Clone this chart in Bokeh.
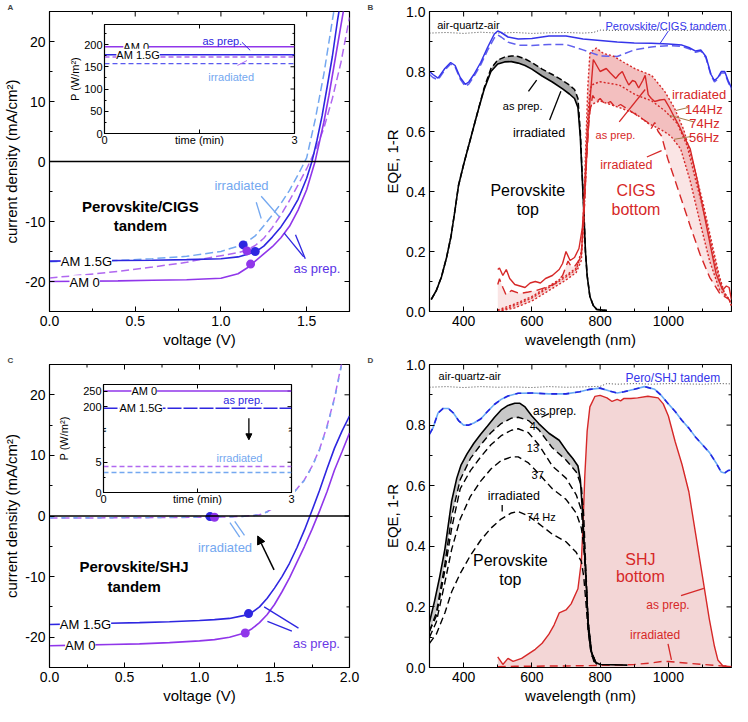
import math
from bokeh.plotting import figure
from bokeh.models import Range1d, FixedTicker, Label, Span, Arrow, NormalHead
from bokeh.layouts import column, row
from bokeh.embed import file_html
from bokeh.resources import INLINE

FONT = "Liberation Sans"
PURPLE = "#9036ea"
PURPLE_D = "#b068f0"
BLUE = "#2e26e0"
LBLUE = "#74a8f0"
TBLUE = "#3535ea"
RED = "#d62828"
HZC = "#a47a48"

# ---------------- panel A data (J-V, perovskite/CIGS) ----------------
a_v_15g = [0, 0.2, 0.4, 0.6, 0.8, 1.0, 1.1, 1.2, 1.25, 1.3, 1.35, 1.4, 1.45, 1.5, 1.53, 1.56, 1.59, 1.62, 1.65, 1.68, 1.70]
a_j_15g = [-16.6, -16.55, -16.5, -16.45, -16.35, -16.2, -15.9, -15.1, -14.1, -12.6, -10.9, -8.8, -6.3, -2.8, -0.1, 3.5, 7.6, 12.5, 17.5, 23.5, 27]
a_v_am0 = [0, 0.2, 0.4, 0.6, 0.8, 1.0, 1.1, 1.15, 1.2, 1.25, 1.3, 1.35, 1.4, 1.45, 1.5, 1.55, 1.6, 1.63, 1.66, 1.69, 1.72]
a_j_am0 = [-20.0, -19.95, -19.9, -19.8, -19.7, -19.45, -18.7, -17.8, -16.6, -15.4, -14.2, -12.7, -10.8, -8.1, -4.7, 0.1, 6.5, 11, 16, 21, 26]
a_v_am0_irr = [0, 0.2, 0.4, 0.6, 0.8, 0.9, 1.0, 1.1, 1.15, 1.2, 1.25, 1.3, 1.35, 1.4, 1.45, 1.5, 1.55, 1.6, 1.65, 1.7, 1.75]
a_j_am0_irr = [-19.4, -18.9, -18.3, -17.6, -16.8, -16.2, -15.7, -15.2, -14.8, -14.0, -12.8, -11.0, -8.9, -6.5, -3.9, -1.2, 1.8, 5.5, 10.5, 16.5, 24]
a_v_15g_irr = [0, 0.2, 0.4, 0.6, 0.8, 0.9, 1.0, 1.1, 1.15, 1.2, 1.25, 1.3, 1.35, 1.4, 1.45, 1.5, 1.55, 1.6, 1.65, 1.67]
a_j_15g_irr = [-16.7, -16.6, -16.5, -16.2, -15.8, -15.4, -15.0, -14.1, -13.4, -12.4, -10.7, -8.9, -7.0, -4.8, -2.2, 0.6, 7.0, 14.5, 23.5, 27]
a_mpp_v = [1.13, 1.152, 1.20, 1.173]
a_mpp_j = [-13.9, -14.9, -15.0, -17.1]
a_mpp_c = [BLUE, PURPLE, BLUE, PURPLE]
a_xticks = [0.0, 0.5, 1.0, 1.5]
a_xminor = [0.25, 0.75, 1.25, 1.75]
a_xlabels = ["0.0", "0.5", "1.0", "1.5"]
a_yticks = [-20, -10, 0, 10, 20]
a_yminor = [-25, -15, -5, 5, 15, 25]
a_ylabels = ["-20", "-10", "0", "10", "20"]
# inset A (power vs time)
ia_t = [0, 3]
ia_am0 = [195, 195]
ia_15g = [177, 177]
ia_am0_irr = [172, 172]
ia_15g_irr = [157, 157]
ia_yticks = [0, 50, 100, 150, 200]
ia_yminor = [25, 75, 125, 175, 225]
ia_ylabels = ["0", "50", "100", "150", "200"]
i_xticks = [0, 1.5, 3]
i_xlabels = ["0", "", "3"]

# ---------------- panel C data (J-V, perovskite/SHJ) ----------------
c_v = [0, 0.2, 0.4, 0.6, 0.8, 1.0, 1.1, 1.2, 1.3, 1.35, 1.4, 1.45, 1.5, 1.55, 1.6, 1.65, 1.7, 1.75, 1.8, 1.85, 1.9, 1.95, 2.0]
c_j_15g = [-17.9, -17.8, -17.7, -17.6, -17.45, -17.25, -17.1, -16.9, -16.4, -15.9, -15.0, -13.6, -11.9, -10.0, -7.8, -5.2, -2.3, 0.9, 4.2, 7.8, 11.2, 14.0, 16.5]
c_j_am0 = [-21.4, -21.3, -21.2, -21.1, -20.9, -20.6, -20.4, -20.0, -19.3, -18.6, -17.6, -16.3, -14.6, -12.5, -10.2, -7.6, -5.0, -2.2, 0.8, 4.0, 7.6, 10.6, 13.7]
c_v_irr = [0, 0.4, 0.8, 1.0, 1.2, 1.3, 1.4, 1.45, 1.5, 1.55, 1.6, 1.65, 1.7, 1.75, 1.8, 1.85, 1.9, 1.95]
c_j_am0_irr = [-0.35, -0.3, -0.25, -0.2, -0.15, -0.05, 0.2, 0.7, 1.4, 2.3, 3.3, 4.5, 6.0, 8.2, 11.0, 14.8, 19.5, 25.5]
c_j_15g_irr = [-0.3, -0.28, -0.22, -0.18, -0.13, -0.05, 0.2, 0.65, 1.3, 2.2, 3.2, 4.4, 5.9, 8.1, 10.9, 14.6, 19.3, 25.2]
c_mpp_v = [1.07, 1.10, 1.327, 1.305]
c_mpp_j = [-0.1, -0.2, -16.1, -19.3]
c_mpp_c = [BLUE, PURPLE, BLUE, PURPLE]
c_xticks = [0.0, 0.5, 1.0, 1.5, 2.0]
c_xminor = [0.25, 0.75, 1.25, 1.75]
c_xlabels = ["0.0", "0.5", "1.0", "1.5", "2.0"]
# inset C (broken axis: lower 0-10 W/m2, upper 126-271 W/m2)
ic_t = [0, 3]
ic_am0 = [250, 250]
ic_15g = [195, 195]
ic_am0_irr = [4.3, 4.3]
ic_15g_irr = [3.3, 3.3]
ic_up_ticks = [200, 250]
ic_up_labels = ["200", "250"]
ic_lo_ticks = [0, 5]
ic_lo_minor = [2.5, 7.5]
ic_lo_labels = ["0", "5"]

# ---------------- panel B data (EQE, perovskite/CIGS) ----------------
b_wl_t = [300, 310, 325, 345, 362, 375, 390, 405, 415, 430, 450, 470, 490, 500, 510, 530, 560, 600, 650, 700,
          750, 800, 850, 900, 950, 1000, 1040, 1060, 1080, 1095, 1110, 1125, 1135, 1145, 1155, 1165, 1175, 1185]
b_tandem = [0.80, 0.79, 0.778, 0.81, 0.83, 0.82, 0.78, 0.757, 0.765, 0.79, 0.83, 0.88, 0.925, 0.935, 0.93, 0.915, 0.908, 0.91, 0.918, 0.918,
            0.908, 0.903, 0.898, 0.895, 0.894, 0.892, 0.888, 0.88, 0.868, 0.872, 0.85, 0.79, 0.77, 0.78, 0.80, 0.80, 0.77, 0.745]
b_tandem_irr = [0.79, 0.78, 0.772, 0.805, 0.825, 0.815, 0.775, 0.75, 0.758, 0.783, 0.822, 0.87, 0.912, 0.922, 0.915, 0.898, 0.888, 0.887, 0.89, 0.89,
                0.872, 0.852, 0.85, 0.872, 0.882, 0.886, 0.884, 0.876, 0.864, 0.868, 0.846, 0.786, 0.765, 0.775, 0.795, 0.795, 0.765, 0.74]
b_wl_q = [300, 350, 400, 450, 500, 550, 600, 650, 700, 750, 780, 800, 850, 900, 950, 1000, 1050, 1100, 1150, 1185]
b_quartz = [0.928, 0.93, 0.927, 0.931, 0.928, 0.93, 0.927, 0.929, 0.93, 0.928, 0.93, 0.938, 0.937, 0.939, 0.937, 0.938, 0.937, 0.939, 0.937, 0.938]
b_wl_p = [305, 320, 335, 350, 363, 375, 385, 400, 420, 440, 460, 480, 500, 520, 540, 560, 580, 600, 630, 660,
          690, 710, 725, 735, 742, 747, 752, 757, 762, 770, 780, 790, 820]
b_pero = [0.04, 0.07, 0.115, 0.18, 0.25, 0.34, 0.42, 0.49, 0.575, 0.66, 0.74, 0.80, 0.825, 0.832, 0.833, 0.828, 0.82, 0.808, 0.785, 0.765,
          0.742, 0.725, 0.71, 0.68, 0.58, 0.46, 0.34, 0.2, 0.12, 0.05, 0.02, 0.007, 0.003]
b_pero_irr = [0.04, 0.07, 0.115, 0.18, 0.25, 0.34, 0.42, 0.49, 0.575, 0.66, 0.745, 0.81, 0.838, 0.848, 0.852, 0.85, 0.842, 0.83, 0.808, 0.79,
              0.77, 0.755, 0.74, 0.71, 0.6, 0.47, 0.345, 0.2, 0.12, 0.05, 0.02, 0.007, 0.003]
b_wl_c = [500, 505, 515, 525, 535, 550, 565, 580, 595, 610, 625, 640, 660, 680, 690, 700, 712, 725, 738, 748,
          755, 762, 770, 780, 790, 800, 818, 830, 846, 855, 865, 875, 884, 895, 903, 913, 925, 932, 941, 950,
          960, 975, 989, 1003, 1017, 1031, 1045, 1064, 1083, 1102, 1121, 1140, 1159, 1170, 1178, 1185]
b_cigs = [0.14, 0.145, 0.12, 0.14, 0.11, 0.09, 0.085, 0.08, 0.095, 0.1, 0.095, 0.11, 0.12, 0.14, 0.16, 0.2, 0.17, 0.18, 0.21, 0.28,
          0.4, 0.55, 0.7, 0.84, 0.82, 0.80, 0.81, 0.795, 0.777, 0.79, 0.80, 0.775, 0.755, 0.77, 0.766, 0.745, 0.77, 0.787, 0.723, 0.71,
          0.70, 0.705, 0.707, 0.68, 0.649, 0.62, 0.585, 0.542, 0.446, 0.34, 0.232, 0.125, 0.072, 0.085, 0.08, 0.04]
b_wl_ci = [500, 505, 515, 524, 540, 564, 590, 612, 640, 669, 690, 706, 715, 725, 744, 752, 760, 768, 778, 790,
           800, 815, 830, 845, 860, 880, 900, 920, 940, 950, 960, 970, 980, 998, 1017, 1036, 1064, 1093, 1121, 1150, 1178, 1185]
b_cigs_irr = [0.09, 0.109, 0.08, 0.056, 0.07, 0.06, 0.065, 0.07, 0.08, 0.093, 0.12, 0.168, 0.15, 0.15, 0.18, 0.3, 0.5, 0.65, 0.72, 0.70,
              0.71, 0.69, 0.70, 0.68, 0.69, 0.675, 0.66, 0.645, 0.63, 0.61, 0.63, 0.60, 0.585, 0.51, 0.446, 0.381, 0.285, 0.19, 0.114, 0.061, 0.04, 0.02]
b_wl_144 = [500, 550, 600, 650, 700, 730, 745, 752, 758, 764, 770, 778, 789, 810, 837, 870, 903, 951, 989, 1017,
            1045, 1074, 1102, 1131, 1150, 1165, 1178, 1185]
b_cigs_144 = [0.005, 0.025, 0.05, 0.085, 0.12, 0.145, 0.2, 0.35, 0.55, 0.75, 0.86, 0.87, 0.878, 0.86, 0.852, 0.83, 0.809, 0.787, 0.734, 0.68,
              0.606, 0.488, 0.36, 0.21, 0.115, 0.06, 0.04, 0.02]
b_wl_74 = [500, 550, 600, 650, 700, 730, 745, 752, 758, 764, 770, 775, 799, 856, 903, 951, 989, 1026, 1055, 1083, 1112, 1140, 1159, 1178, 1185]
b_cigs_74 = [0.0, 0.02, 0.045, 0.08, 0.115, 0.14, 0.19, 0.33, 0.5, 0.65, 0.73, 0.755, 0.766, 0.755, 0.723, 0.702, 0.67, 0.627, 0.552, 0.424,
             0.296, 0.147, 0.072, 0.04, 0.02]
b_wl_56 = [500, 550, 600, 650, 700, 730, 745, 752, 758, 764, 770, 775, 799, 856, 903, 941, 979, 1007, 1036, 1064, 1093, 1121, 1150, 1178, 1185]
b_cigs_56 = [0.0, 0.012, 0.035, 0.07, 0.105, 0.13, 0.17, 0.3, 0.45, 0.6, 0.67, 0.69, 0.702, 0.68, 0.66, 0.627, 0.606, 0.585, 0.542, 0.435,
             0.296, 0.168, 0.072, 0.04, 0.02]
w_xticks = [400, 600, 800, 1000]
w_xminor = [300, 500, 700, 900, 1100]
w_xlabels = ["400", "600", "800", "1000"]
e_yticks = [0.0, 0.2, 0.4, 0.6, 0.8, 1.0]
e_yminor = [0.1, 0.3, 0.5, 0.7, 0.9]
e_ylabels = ["0.0", "0.2", "0.4", "0.6", "0.8", "1.0"]

# ---------------- panel D data (EQE, perovskite/SHJ) ----------------
d_wl_t = [300, 310, 325, 340, 355, 370, 385, 400, 415, 430, 450, 470, 490, 510, 530, 560, 600, 650, 700, 740,
          770, 800, 830, 850, 870, 900, 930, 960, 980, 1000, 1020, 1040, 1060, 1080, 1100, 1120, 1140, 1155, 1165, 1175, 1185]
d_tandem = [0.77, 0.79, 0.84, 0.855, 0.855, 0.84, 0.815, 0.80, 0.80, 0.807, 0.82, 0.845, 0.868, 0.885, 0.896, 0.905, 0.906, 0.903, 0.903, 0.91,
            0.918, 0.922, 0.912, 0.906, 0.91, 0.918, 0.927, 0.918, 0.897, 0.87, 0.845, 0.815, 0.79, 0.76, 0.735, 0.71, 0.675, 0.645, 0.642, 0.65, 0.652]
d_tandem_irr = [0.77, 0.79, 0.84, 0.855, 0.855, 0.84, 0.815, 0.80, 0.80, 0.807, 0.82, 0.845, 0.868, 0.885, 0.896, 0.905, 0.906, 0.903, 0.903, 0.91,
                0.918, 0.922, 0.912, 0.906, 0.91, 0.918, 0.927, 0.918, 0.897, 0.87, 0.845, 0.815, 0.79, 0.76, 0.735, 0.71, 0.675, 0.645, 0.642, 0.65, 0.652]
d_wl_q = [300, 350, 400, 450, 500, 550, 600, 650, 700, 750, 800, 820, 850, 900, 950, 1000, 1050, 1100, 1150, 1185]
d_quartz = [0.925, 0.927, 0.924, 0.927, 0.925, 0.926, 0.924, 0.927, 0.925, 0.926, 0.928, 0.937, 0.935, 0.937, 0.935, 0.937, 0.936, 0.935, 0.937, 0.936]
d_wl_p = [300, 315, 330, 345, 355, 365, 380, 392, 410, 430, 450, 470, 490, 510, 530, 550, 565, 580, 600, 620,
          650, 680, 705, 720, 735, 742, 748, 755, 760, 765, 772, 782, 800, 880]
d_pero = [0.15, 0.22, 0.3, 0.39, 0.47, 0.55, 0.625, 0.667, 0.705, 0.74, 0.77, 0.797, 0.825, 0.85, 0.865, 0.872, 0.872, 0.86, 0.83, 0.805,
          0.773, 0.75, 0.71, 0.69, 0.665, 0.62, 0.52, 0.37, 0.26, 0.13, 0.06, 0.02, 0.01, 0.008]
d_wl_h = [300, 320, 345, 365, 390, 420, 450, 480, 510, 540, 560, 590, 620, 660, 700, 730, 745, 752, 758, 765, 775, 790]
d_pero_4 = [0.12, 0.18, 0.34, 0.5, 0.62, 0.69, 0.735, 0.775, 0.805, 0.823, 0.826, 0.815, 0.785, 0.725, 0.685, 0.645, 0.6, 0.5, 0.33, 0.15, 0.05, 0.01]
d_pero_13 = [0.12, 0.17, 0.32, 0.46, 0.59, 0.65, 0.695, 0.735, 0.765, 0.783, 0.788, 0.775, 0.735, 0.665, 0.625, 0.57, 0.52, 0.42, 0.3, 0.15, 0.05, 0.01]
d_pero_37 = [0.10, 0.15, 0.28, 0.39, 0.49, 0.565, 0.615, 0.655, 0.683, 0.695, 0.695, 0.675, 0.64, 0.59, 0.555, 0.51, 0.46, 0.4, 0.3, 0.15, 0.05, 0.01]
d_pero_74 = [0.08, 0.11, 0.18, 0.25, 0.31, 0.37, 0.42, 0.46, 0.49, 0.51, 0.515, 0.5, 0.475, 0.44, 0.415, 0.38, 0.35, 0.3, 0.22, 0.12, 0.04, 0.01]
d_wl_s = [500, 515, 530, 545, 570, 590, 610, 630, 650, 665, 680, 700, 715, 735, 745, 750, 755, 762, 770, 785,
          800, 820, 835, 850, 860, 870, 890, 910, 940, 970, 985, 1000, 1020, 1040, 1060, 1080, 1100, 1120, 1135, 1145, 1160, 1185]
d_shj = [0.035, 0.01, 0.03, 0.02, 0.03, 0.045, 0.06, 0.08, 0.11, 0.14, 0.18, 0.19, 0.21, 0.26, 0.35, 0.47, 0.63, 0.78, 0.86, 0.895,
         0.898, 0.89, 0.878, 0.885, 0.88, 0.888, 0.888, 0.89, 0.895, 0.89, 0.87, 0.83, 0.745, 0.67, 0.58, 0.44, 0.3, 0.16, 0.07, 0.025, 0.005, 0.003]
d_wl_si = [500, 550, 600, 650, 700, 750, 800, 850, 900, 950, 980, 1000, 1020, 1050, 1100, 1150, 1185]
d_shj_irr = [0.003, 0.004, 0.004, 0.005, 0.005, 0.006, 0.007, 0.008, 0.01, 0.015, 0.02, 0.02, 0.018, 0.015, 0.01, 0.006, 0.004]


def make_fig(xr, yr, w, h, ml, mr, mt, mb, letter=None, **kw):
    p = figure(width=w, height=h, x_range=Range1d(*xr), y_range=Range1d(*yr),
               output_backend="svg", toolbar_location=None,
               min_border_left=ml, min_border_right=mr, min_border_top=mt, min_border_bottom=mb,
               title=letter, **kw)
    p.grid.visible = False
    p.outline_line_color = "black"
    p.outline_line_width = 1.2
    p.border_fill_color = "white"
    p.background_fill_color = "white"
    if letter:
        p.title.text_font = FONT
        p.title.text_font_size = "8px"
        p.title.text_font_style = "bold"
        p.title.align = "left"
        p.title.offset = -(ml - 1)
        p.title.standoff = 0
    return p


def set_axis(ax, ticks, minor, labels, label, fs, afs, tin, standoff=4, lstand=2):
    ax.ticker = FixedTicker(ticks=ticks, minor_ticks=minor)
    ax.major_label_overrides = {t: l for t, l in zip(ticks, labels)}
    ax.axis_label = label if label else None
    ax.major_label_text_font = FONT
    ax.major_label_text_font_size = fs
    ax.major_label_text_color = "black"
    ax.axis_label_text_font = FONT
    ax.axis_label_text_font_size = afs
    ax.axis_label_text_font_style = "normal"
    ax.axis_label_text_color = "black"
    ax.axis_label_standoff = lstand
    ax.major_label_standoff = standoff
    ax.major_tick_in = tin
    ax.major_tick_out = 0
    ax.minor_tick_in = max(2, tin - 2)
    ax.minor_tick_out = 0
    ax.major_tick_line_color = "black"
    ax.minor_tick_line_color = "black"
    ax.axis_line_color = "black"


def tick_rays(p, xs, ys, length, angle, **kw):
    p.ray(x=xs, y=ys, length=length, length_units="screen", angle=angle,
          line_color="black", line_width=1, **kw)


def mirror_ticks(p, xr, yr, xt, xm, yt, ym, tin, top=True, right=True):
    """Inward tick marks on the top and right frame edges."""
    if top:
        tick_rays(p, xt, [yr[1]] * len(xt), tin, -math.pi / 2)
        if xm:
            tick_rays(p, xm, [yr[1]] * len(xm), max(2, tin - 2), -math.pi / 2)
    if right:
        tick_rays(p, [xr[1]] * len(yt), yt, tin, math.pi)
        if ym:
            tick_rays(p, [xr[1]] * len(ym), ym, max(2, tin - 2), math.pi)


def lab(p, x, y, text, size="13px", color="black", bold=False, bg=None, align="center", angle=0.0,
        base="middle", **kw):
    l = Label(x=x, y=y, text=text, text_font=FONT, text_font_size=size, text_color=color,
              text_align=align, text_baseline=base, angle=angle,
              text_font_style="bold" if bold else "normal", **kw)
    if bg:
        l.background_fill_color = bg
    p.add_layout(l)


def leader(p, pts, color, width=1.3, **kw):
    p.line([pts[0][0], pts[1][0]], [pts[0][1], pts[1][1]], line_color=color, line_width=width, **kw)


# ======================= Panel A =======================
A_X, A_Y = (0, 1.75), (-25, 25)
pA = make_fig(A_X, A_Y, 366, 353, 43, 17, 4, 42, letter="A")
set_axis(pA.xaxis[0], a_xticks, a_xminor, a_xlabels, "voltage (V)", "14px", "15px", 5)
set_axis(pA.yaxis[0], a_yticks, a_yminor, a_ylabels, "current density (mA/cm²)", "14px", "15px", 5)
mirror_ticks(pA, A_X, A_Y, a_xticks, a_xminor, a_yticks, a_yminor, 5)
pA.add_layout(Span(location=0, dimension="width", line_color="black", line_width=1.3))
pA.line(a_v_am0_irr, a_j_am0_irr, line_color=PURPLE_D, line_width=1.5, line_dash="8 4")
pA.line(a_v_15g_irr, a_j_15g_irr, line_color=LBLUE, line_width=1.5, line_dash="8 4")
pA.line(a_v_am0, a_j_am0, line_color=PURPLE, line_width=1.6)
pA.line(a_v_15g, a_j_15g, line_color=BLUE, line_width=1.6)
pA.scatter(a_mpp_v, a_mpp_j, size=9, fill_color=a_mpp_c, line_color=None)
lab(pA, 0.215, -16.6, "AM 1.5G", "13px", "black", bg="white")
lab(pA, 0.205, -20.2, "AM 0", "13px", "black", bg="white")
lab(pA, 0.53, -7.5, "Perovskite/CIGS", "15px", "black", bold=True)
lab(pA, 0.53, -10.6, "tandem", "15px", "black", bold=True)
lab(pA, 1.12, -4.0, "irradiated", "13px", LBLUE)
lab(pA, 1.56, -17.9, "as prep.", "13px", "#5a33e6")
leader(pA, [(1.206, -6.8), (1.235, -9.5)], LBLUE)
leader(pA, [(1.235, -5.8), (1.34, -9.2)], LBLUE)
leader(pA, [(1.368, -11.9), (1.483, -15.9)], BLUE)
leader(pA, [(1.435, -12.2), (1.492, -16.2)], BLUE)

# ======================= Panel B =======================
W_X, E_Y = (300, 1185), (0, 1.0)
pB = make_fig(W_X, E_Y, 366, 353, 63, 1, 4, 42, letter="B")
set_axis(pB.xaxis[0], w_xticks, w_xminor, w_xlabels, "wavelength (nm)", "14px", "15px", 5)
set_axis(pB.yaxis[0], e_yticks, e_yminor, e_ylabels, "EQE, 1-R", "14px", "15px", 5)
mirror_ticks(pB, W_X, E_Y, w_xticks, w_xminor, e_yticks, e_yminor, 5)
pB.patch(b_wl_144 + b_wl_ci[::-1], b_cigs_144 + b_cigs_irr[::-1], fill_color=RED, fill_alpha=0.12, line_color=None)
pB.patch(b_wl_144 + b_wl_56[::-1], b_cigs_144 + b_cigs_56[::-1], fill_color=RED, fill_alpha=0.2, line_color=None)
pB.varea(x=b_wl_p, y1=b_pero, y2=b_pero_irr, fill_color="#a8a8a8")
pB.line(b_wl_q, b_quartz, line_color="#444444", line_width=1, line_dash="1 2")
pB.line(b_wl_t, b_tandem_irr, line_color="#6060ee", line_width=1.5, line_dash="8 4")
pB.line(b_wl_t, b_tandem, line_color=TBLUE, line_width=1.5)
pB.line(b_wl_p, b_pero_irr, line_color="black", line_width=1.5, line_dash="6 3")
pB.line(b_wl_p, b_pero, line_color="black", line_width=1.6)
pB.line(b_wl_144, b_cigs_144, line_color=RED, line_width=1.4, line_dash="2 2")
pB.line(b_wl_74, b_cigs_74, line_color=RED, line_width=1.4, line_dash="2 2")
pB.line(b_wl_56, b_cigs_56, line_color=RED, line_width=1.4, line_dash="2 2")
pB.line(b_wl_ci, b_cigs_irr, line_color=RED, line_width=1.4, line_dash="9 5")
pB.line(b_wl_c, b_cigs, line_color=RED, line_width=1.4)
lab(pB, 414, 0.955, "air-quartz-air", "11px")
lab(pB, 993, 0.952, "Perovskite/CIGS tandem", "11px", TBLUE)
leader(pB, [(1000, 0.935), (976, 0.894)], TBLUE, 1)
lab(pB, 573, 0.686, "as prep.", "11px")
lab(pB, 621, 0.595, "irradiated", "12.5px")
leader(pB, [(590, 0.734), (614, 0.771)], "black")
leader(pB, [(652, 0.638), (685, 0.734)], "black")
lab(pB, 588, 0.403, "Perovskite", "16px")
lab(pB, 588, 0.339, "top", "16px")
lab(pB, 905, 0.403, "CIGS", "16px", RED)
lab(pB, 905, 0.339, "bottom", "16px", RED)
lab(pB, 845, 0.587, "as prep.", "11px", RED)
lab(pB, 877, 0.488, "irradiated", "12.5px", RED)
leader(pB, [(856, 0.632), (932, 0.74)], RED)
leader(pB, [(937, 0.515), (980, 0.536)], RED)
lab(pB, 1090, 0.723, "irradiated", "13px", RED)
lab(pB, 1104, 0.675, "144Hz", "13px", RED)
lab(pB, 1106, 0.627, "74Hz", "13px", RED)
lab(pB, 1105, 0.579, "56Hz", "13px", RED)
leader(pB, [(1058, 0.68), (1022, 0.67)], HZC, 1)
leader(pB, [(1075, 0.632), (1003, 0.654)], HZC, 1)
leader(pB, [(1070, 0.584), (1017, 0.574)], HZC, 1)

# ======================= Panel C =======================
C_X = (0, 2.0)
pC = make_fig(C_X, A_Y, 366, 353, 43, 17, 8, 34, letter="C")
set_axis(pC.xaxis[0], c_xticks, c_xminor, c_xlabels, "voltage (V)", "14px", "15px", 5)
set_axis(pC.yaxis[0], a_yticks, a_yminor, a_ylabels, "current density (mA/cm²)", "14px", "15px", 5)
mirror_ticks(pC, C_X, A_Y, c_xticks, c_xminor, a_yticks, a_yminor, 5)
pC.add_layout(Span(location=0, dimension="width", line_color="black", line_width=1.3))
pC.line(c_v_irr, c_j_am0_irr, line_color=PURPLE_D, line_width=1.5, line_dash="8 4")
pC.line(c_v_irr, c_j_15g_irr, line_color=LBLUE, line_width=1.5, line_dash="4 8")
pC.line(c_v, c_j_am0, line_color=PURPLE, line_width=1.6)
pC.line(c_v, c_j_15g, line_color=BLUE, line_width=1.6)
pC.scatter(c_mpp_v, c_mpp_j, size=9, fill_color=c_mpp_c, line_color=None)
lab(pC, 0.24, -17.9, "AM 1.5G", "13px", "black", bg="white")
lab(pC, 0.205, -21.4, "AM 0", "13px", "black", bg="white")
lab(pC, 0.564, -8.3, "Perovskite/SHJ", "15px", "black", bold=True)
lab(pC, 0.564, -11.6, "tandem", "15px", "black", bold=True)
lab(pC, 1.17, -5.2, "irradiated", "13px", LBLUE)
lab(pC, 1.78, -21.1, "as prep.", "13px", "#6a38e6")
leader(pC, [(1.203, -1.1), (1.268, -3.5)], LBLUE)
leader(pC, [(1.235, -0.9), (1.30, -3.2)], LBLUE)
leader(pC, [(1.431, -15.0), (1.66, -18.5)], BLUE)
leader(pC, [(1.453, -17.4), (1.616, -19.0)], BLUE)
pC.add_layout(Arrow(end=NormalHead(size=8, fill_color="black", line_color="black"),
                    x_start=1.497, y_start=-8.9, x_end=1.388, y_end=-3.3, line_width=1.5))

# ======================= Panel D =======================
pD = make_fig(W_X, E_Y, 366, 353, 63, 1, 8, 34, letter="D")
set_axis(pD.xaxis[0], w_xticks, w_xminor, w_xlabels, "wavelength (nm)", "14px", "15px", 5)
set_axis(pD.yaxis[0], e_yticks, e_yminor, e_ylabels, "EQE, 1-R", "14px", "15px", 5)
mirror_ticks(pD, W_X, E_Y, w_xticks, w_xminor, e_yticks, e_yminor, 5)
pD.varea(x=d_wl_s, y1=[0] * len(d_wl_s), y2=d_shj, fill_color="#f3d6d6")
pD.patch(d_wl_p + d_wl_h[::-1], d_pero + d_pero_4[::-1], fill_color="#c8c8c8", line_color=None)
pD.line(d_wl_q, d_quartz, line_color="#444444", line_width=1, line_dash="1 2")
pD.line(d_wl_t, d_tandem, line_color="#6aaaf5", line_width=1.6)
pD.line(d_wl_t, d_tandem_irr, line_color="#2424e0", line_width=1.6, line_dash="6 6")
pD.line(d_wl_s, d_shj, line_color=RED, line_width=1.4)
pD.line(d_wl_si, d_shj_irr, line_color=RED, line_width=1.4, line_dash="8 5")
for ys in (d_pero_4, d_pero_13, d_pero_37, d_pero_74):
    pD.line(d_wl_h, ys, line_color="black", line_width=1.4, line_dash="7 4")
pD.line(d_wl_p, d_pero, line_color="black", line_width=1.6)
lab(pD, 418, 0.962, "air-quartz-air", "11px")
lab(pD, 1013, 0.956, "Pero/SHJ tandem", "12px", TBLUE)
lab(pD, 667, 0.845, "as prep.", "12px")
leader(pD, [(628, 0.826), (650, 0.838)], "black")
lab(pD, 603, 0.797, "4", "11px")
lab(pD, 603, 0.724, "13", "11px")
lab(pD, 617, 0.634, "37", "11px")
lab(pD, 547, 0.565, "irradiated", "12.5px")
leader(pD, [(513, 0.536), (513, 0.515)], "black")
lab(pD, 628, 0.496, "74 Hz", "11px")
lab(pD, 537, 0.352, "Perovskite", "16px")
lab(pD, 537, 0.289, "top", "16px")
lab(pD, 918, 0.358, "SHJ", "16px", RED)
lab(pD, 918, 0.30, "bottom", "16px", RED)
lab(pD, 999, 0.205, "as prep.", "12px", RED)
lab(pD, 961, 0.108, "irradiated", "12px", RED)
leader(pD, [(1037, 0.237), (1104, 0.261)], RED)
leader(pD, [(999, 0.078), (1009, 0.025)], RED)

# ======================= Inset A =======================
IA_X, IA_Y = (0, 3), (0, 245)
insA = make_fig(IA_X, IA_Y, 242, 129, 48, 4, 2, 18,
                styles={"position": "absolute", "left": "56px", "top": "22px"})
set_axis(insA.xaxis[0], i_xticks, [], i_xlabels, "time (min)", "11px", "11px", 4, 2, -13)
set_axis(insA.yaxis[0], ia_yticks, ia_yminor, ia_ylabels, "P (W/m²)", "11px", "11px", 4, 2, 0)
mirror_ticks(insA, IA_X, IA_Y, i_xticks, [], ia_yticks, ia_yminor, 4)
insA.line(ia_t, ia_am0, line_color=PURPLE, line_width=1.6)
insA.line(ia_t, ia_15g, line_color=BLUE, line_width=1.6)
insA.line(ia_t, ia_am0_irr, line_color=PURPLE_D, line_width=1.4, line_dash="5 3")
insA.line(ia_t, ia_15g_irr, line_color="#5a5af0", line_width=1.4, line_dash="5 3")
lab(insA, 0.5, 195, "AM 0", "11px", "black", bg="white")
lab(insA, 0.53, 177, "AM 1.5G", "11px", "black", bg="white")
lab(insA, 1.86, 209, "as prep.", "11px", BLUE)
lab(insA, 2.0, 127, "irradiated", "11px", LBLUE)
leader(insA, [(2.17, 205), (2.3, 187)], BLUE, 1)
leader(insA, [(2.1, 153), (2.25, 164)], "#b06cf2", 1)

# ======================= Inset C (broken axis) =======================
# lower part (0-10.35 W/m2) uses the default y range, upper part (126-271 W/m2) the "up" range
ICL_Y = (0, 17.85)
ICU_Y = (-74.7, 271)


def up_to_low(v):
    """Position of an upper-segment value on the default (lower) y scale, for the shared left axis."""
    return ICL_Y[0] + (v - ICU_Y[0]) / (ICU_Y[1] - ICU_Y[0]) * (ICL_Y[1] - ICL_Y[0])


ic_axis_ticks = ic_lo_ticks + [up_to_low(v) for v in ic_up_ticks]
ic_axis_labels = ic_lo_labels + ic_up_labels
insC = make_fig(IA_X, ICL_Y, 240, 128, 47, 4, 2, 18,
                styles={"position": "absolute", "left": "55px", "top": "382px"})
insC.extra_y_ranges = {"up": Range1d(*ICU_Y)}
set_axis(insC.xaxis[0], i_xticks, [], i_xlabels, "time (min)", "11px", "11px", 4, 2, -13)
set_axis(insC.yaxis[0], ic_axis_ticks, ic_lo_minor, ic_axis_labels, "P (W/m²)", "11px", "11px", 4, 2, 10)
mirror_ticks(insC, IA_X, ICL_Y, i_xticks, [], ic_axis_ticks, ic_lo_minor, 4)
insC.line(ic_t, ic_am0, line_color=PURPLE, line_width=1.6, y_range_name="up")
insC.line(ic_t, ic_15g, line_color=BLUE, line_width=1.6, line_dash="14 2", y_range_name="up")
insC.line(ic_t, ic_am0_irr, line_color=PURPLE_D, line_width=1.4, line_dash="5 3")
insC.line(ic_t, ic_15g_irr, line_color=LBLUE, line_width=1.4, line_dash="5 3")
lab(insC, 0.65, 250, "AM 0", "11px", "black", bg="white", y_range_name="up")
lab(insC, 0.6, 195, "AM 1.5G", "11px", "black", bg="white", y_range_name="up")
lab(insC, 2.23, 221, "as prep.", "11px", BLUE, y_range_name="up")
lab(insC, 2.17, 5.66, "irradiated", "11px", LBLUE)
insC.add_layout(Arrow(end=NormalHead(size=6, fill_color="black", line_color="black"),
                      x_start=2.32, y_start=163, x_end=2.32, y_end=94, line_width=1.3,
                      y_range_name="up"))
lab(insC, 0.0, 10.35, "≈", "10px", bold=True)
lab(insC, 3.0, 10.35, "≈", "10px", bold=True)

root = column(row(pA, pB), row(pC, pD), insA, insC)
open("out.html", "w").write(file_html(root, INLINE))
